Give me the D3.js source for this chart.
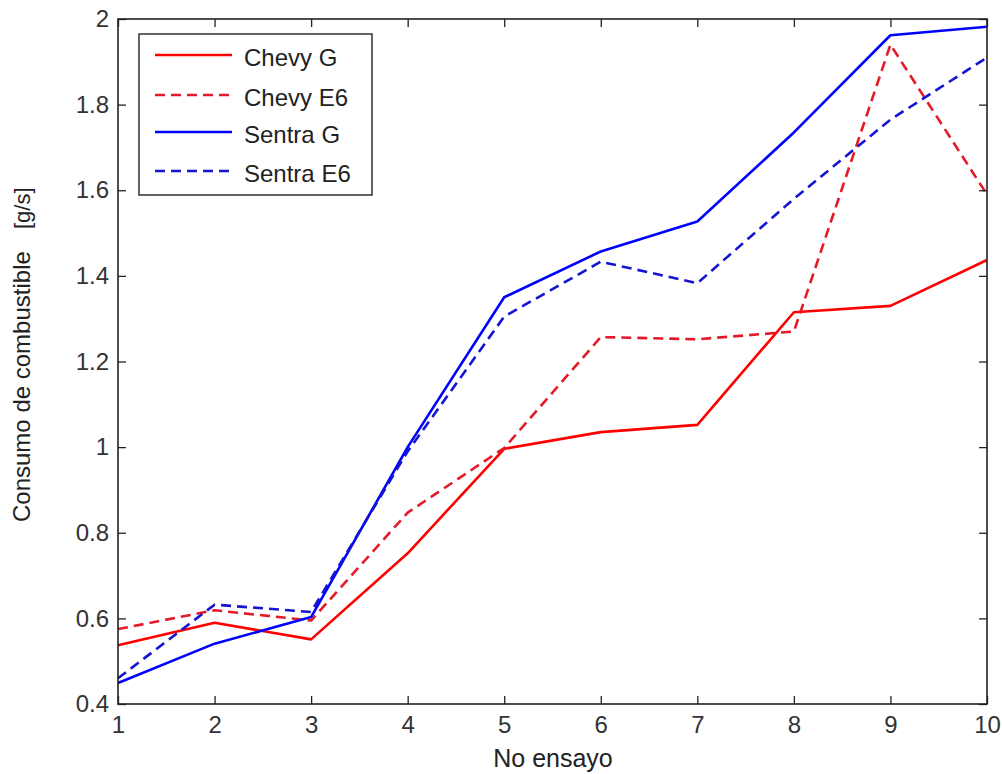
<!DOCTYPE html>
<html><head><meta charset="utf-8">
<script src="https://cdn.jsdelivr.net/npm/d3@7"></script>
<style>body{margin:0;background:#fff}svg{display:block}</style>
</head><body>
<svg id="c" width="1002" height="774"></svg>
<script>
const trials = [1,2,3,4,5,6,7,8,9,10];
const chevyG  = [0.537,0.590,0.551,0.752,0.996,1.035,1.052,1.315,1.330,1.437];
const chevyE6 = [0.575,0.619,0.595,0.847,0.998,1.257,1.252,1.270,1.940,1.590];
const sentraG = [0.449,0.541,0.603,1.000,1.350,1.457,1.527,1.735,1.962,1.982];
const sentraE6= [0.460,0.632,0.615,0.990,1.305,1.433,1.383,1.580,1.765,1.910];
const seriesNames = ["Chevy G","Chevy E6","Sentra G","Sentra E6"];
const xTicks = [1,2,3,4,5,6,7,8,9,10];
const yTicks = [0.4,0.6,0.8,1,1.2,1.4,1.6,1.8,2];

const series = [
  {name:seriesNames[0], vals:chevyG,  color:"#ff0000", dash:null},
  {name:seriesNames[1], vals:chevyE6, color:"#e41a28", dash:"10,6"},
  {name:seriesNames[2], vals:sentraG, color:"#0000ff", dash:null},
  {name:seriesNames[3], vals:sentraE6,color:"#1414d2", dash:"10,6"}
];

const L=118, R=987, T=19, B=704;
const svg = d3.select("#c");
const x = d3.scaleLinear().domain([1,10]).range([L,R]);
const y = d3.scaleLinear().domain([0.4,2]).range([B,T]);
const font = "'Liberation Sans', Arial, sans-serif";

// lines
const line = d3.line().x((d,i)=>x(trials[i])).y(d=>y(d));
series.forEach(s=>{
  svg.append("path").attr("d", line(s.vals)).attr("fill","none")
    .attr("stroke", s.color).attr("stroke-width",2.6)
    .attr("stroke-dasharray", s.dash).attr("stroke-linejoin","round");
});

// axes (ticks inward)
const tl = 8;
const gx = svg.append("g").attr("transform",`translate(0,${B})`)
  .call(d3.axisBottom(x).tickValues(xTicks).tickSize(-tl).tickPadding(12).tickFormat(d3.format("d")));
const gxt = svg.append("g").attr("transform",`translate(0,${T})`)
  .call(d3.axisTop(x).tickValues(xTicks).tickSize(-tl).tickFormat(""));
const gy = svg.append("g").attr("transform",`translate(${L},0)`)
  .call(d3.axisLeft(y).tickValues(yTicks).tickSize(-tl).tickPadding(9).tickFormat(d=>String(+d.toFixed(1))));
const gyr = svg.append("g").attr("transform",`translate(${R},0)`)
  .call(d3.axisRight(y).tickValues(yTicks).tickSize(-tl).tickFormat(""));
[gx,gxt,gy,gyr].forEach(g=>{
  g.select(".domain").remove();
  g.selectAll(".tick line").attr("stroke","#222").attr("stroke-width",1.3);
  g.selectAll("text").attr("font-family",font).attr("font-size",24).attr("fill","#333");
});
svg.append("rect").attr("x",L).attr("y",T).attr("width",R-L).attr("height",B-T)
  .attr("fill","none").attr("stroke","#222").attr("stroke-width",1.6);

// axis labels
svg.append("text").attr("x",553).attr("y",767).attr("text-anchor","middle")
  .attr("font-family",font).attr("font-size",25).attr("fill","#222").text("No ensayo");
svg.append("text").attr("transform","translate(30,522) rotate(-90)").attr("text-anchor","start")
  .attr("font-family",font).attr("font-size",24).attr("fill","#222")
  .text("Consumo de combustible");
svg.append("text").attr("transform","translate(30,229) rotate(-90)").attr("text-anchor","start")
  .attr("font-family",font).attr("font-size",22).attr("fill","#222")
  .text("[g/s]");

// legend
const lg = svg.append("g");
lg.append("rect").attr("x",139).attr("y",34).attr("width",233).attr("height",161)
  .attr("fill","#fff").attr("stroke","#222").attr("stroke-width",1.4);
const rowY = [55,95,132,171];
series.forEach((s,i)=>{
  lg.append("line").attr("x1",155).attr("x2",232).attr("y1",rowY[i]).attr("y2",rowY[i])
    .attr("stroke",s.color).attr("stroke-width",2.6).attr("stroke-dasharray",s.dash);
  lg.append("text").attr("x",244).attr("y",rowY[i]+11).attr("font-family",font)
    .attr("font-size",24).attr("fill","#222").text(s.name);
});
</script>
</body></html>
